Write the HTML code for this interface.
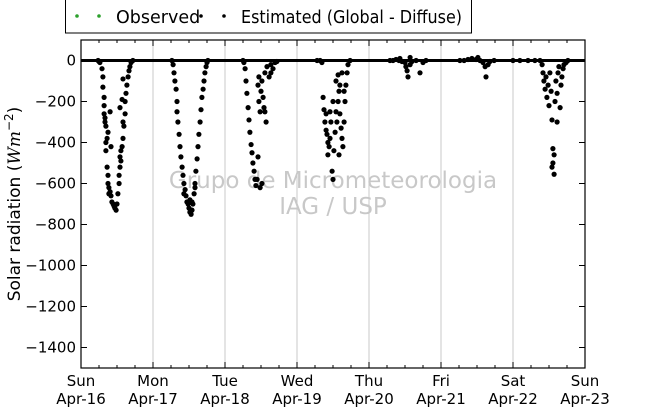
<!DOCTYPE html>
<html><head><meta charset="utf-8"><style>
html,body{margin:0;padding:0;background:#fff;}
svg{display:block;font-family:"DejaVu Sans","Liberation Sans",sans-serif;}
</style></head><body>
<svg id="chart" width="650" height="409" viewBox="0 0 650 409" xmlns="http://www.w3.org/2000/svg">
<g>
<rect x="65.5" y="-1" width="406" height="34" fill="#fff" stroke="#000" stroke-width="1"/>
<circle cx="77" cy="16" r="1.8" fill="#2ca02c"/><circle cx="99" cy="16" r="1.8" fill="#2ca02c"/>
<text x="116" y="23" font-size="17.5">Observed</text>
<circle cx="201" cy="16" r="1.8" fill="#000"/><circle cx="224" cy="16" r="1.8" fill="#000"/>
<text x="241" y="23" font-size="17.5" textLength="221" lengthAdjust="spacingAndGlyphs">Estimated (Global - Diffuse)</text>
</g>
<g id="grid"></g>
<text x="333" y="188" font-size="23" fill="#c8c8c8" text-anchor="middle">Grupo de Micrometeorologia</text>
<text x="333" y="214" font-size="23" fill="#c8c8c8" text-anchor="middle">IAG / USP</text>
<g id="marks"></g>
<g id="axes"></g>
<text transform="translate(20,204) rotate(-90)" font-size="17" text-anchor="middle">Solar radiation (<tspan font-family="DejaVu Serif" font-style="italic">Wm</tspan><tspan font-size="12" dy="-7">−2</tspan><tspan dy="7">)</tspan></text>
</svg>
<script>
const dayLabels = ["Sun","Mon","Tue","Wed","Thu","Fri","Sat","Sun"];
const dateLabels = ["Apr-16","Apr-17","Apr-18","Apr-19","Apr-20","Apr-21","Apr-22","Apr-23"];
const yTicks = [0,-200,-400,-600,-800,-1000,-1200,-1400];
const zeroLineHours = [0,168];
const zeroLineValues = [0,0];
const estHours = [5.7,6,6.3,7,7.3,7.3,7.7,7.7,7.7,8,8,8.3,8.3,8.3,8.7,8.7,9,9,9.3,9.3,9.7,10,10.3,10.7,11,11.3,11.7,12,12.3,12.7,12.7,13,13,13.3,13.3,13.7,14,14,14.3,14.7,14.7,15,15.3,15.7,16,16.3,16.7,17.3,14,13.7,13,9.7,9,10,
30.3,30.7,31,31.3,31.7,32,32,32.3,32.7,33,33.3,33.7,34,34.3,34.7,35,35.3,35.7,36,36.3,36.7,37,37.3,37.7,38,38.3,38.7,39,39.3,39.7,40,40.3,40.7,41,41.3,41.7,42,42.3,36.3,37,38,34.3,
54,54.3,54.7,55,55.3,55.7,56,56.3,56.7,57,57.3,57.7,58,58.3,58.7,59,59,59.3,59.3,59.7,60,60.3,60.7,61,61.3,61.3,61.7,62,62.7,63.3,64,64.7,65.3,59.7,60.3,63.3,
78.7,79.7,80.3,80.7,81,81.3,81.7,82,82.3,82.7,83,83.3,83.7,84,84.3,84.7,85,85.3,85.7,86,86.3,86.7,87,87.3,87.7,88,88.3,88.7,89,89.7,85,85.7,86.3,87,83,84,87.7,81.7,82.3,86,
103,104,105,106,107,108,108.3,108.7,109,109.7,110.3,111.7,113,114,115,106.3,109.7,
126.3,127.7,129,130.3,131.7,133,134,134.7,135,135.7,136.3,137.7,132.3,
144,146.3,149,151.3,153,153.7,154,154.3,154.7,155,155.3,155.7,156,156.3,156.7,157,157.3,157.3,157.7,158,158.3,158.7,159,159.3,159.7,160,160.3,160.7,161,161.7,162.3,158.7,157,157.7];
const estValues = [0,-5,-10,-40,-80,-130,-180,-220,-260,-300,-280,-320,-400,-440,-380,-520,-560,-600,-620,-650,-640,-660,-690,-700,-710,-720,-730,-700,-650,-600,-560,-520,-470,-440,-490,-420,-380,-300,-320,-260,-200,-160,-120,-80,-50,-30,-10,0,-90,-190,-230,-250,-350,-420,
0,-20,-60,-100,-140,-200,-250,-300,-360,-420,-470,-520,-560,-600,-630,-660,-690,-700,-720,-740,-750,-730,-700,-650,-600,-540,-480,-420,-360,-300,-240,-180,-140,-100,-60,-30,-10,0,-680,-690,-620,-650,
0,-10,-40,-100,-160,-230,-290,-350,-410,-450,-500,-540,-580,-610,-580,-470,-120,-80,-200,-250,-150,-100,-180,-230,-250,-60,-300,-30,-80,-20,-40,-10,-5,-620,-600,-60,
0,0,-10,-180,-240,-300,-340,-360,-400,-420,-380,-300,-540,-580,-440,-350,-250,-300,-200,-150,-260,-330,-380,-420,-300,-200,-120,-60,-20,0,-100,-70,-120,-60,-250,-200,-150,-260,-460,-460,
0,0,5,0,-5,-10,-30,-50,-80,-20,-5,0,-60,-10,0,10,15,
0,0,5,10,5,0,-10,-30,-80,-20,-5,0,15,
0,0,0,0,0,-20,-60,-100,-140,-80,-180,-120,-220,-60,-150,-290,-430,-500,-555,-200,-100,-160,-60,-30,-230,-120,-80,-40,-20,-10,0,-300,-520,-460];
const L=81,R=585,T=40,B=368;
const x = h => L + (h/168)*(R-L);
const y = v => T + (100 - v)/1600*(B-T);
const NS="http://www.w3.org/2000/svg";
function mk(tag, attrs, parent){const e=document.createElementNS(NS,tag);for(const k in attrs)e.setAttribute(k,attrs[k]);parent.appendChild(e);return e;}
const grid=document.getElementById('grid'), marks=document.getElementById('marks'), axes=document.getElementById('axes');
for(let d=1;d<7;d++){
  const g=mk('line',{x1:x(d*24),x2:x(d*24),y1:T,y2:B,stroke:'#c8c8c8','stroke-width':1},grid);
  
  
}
const zl=mk('polyline',{points:zeroLineHours.map((h,i)=>x(h)+','+y(zeroLineValues[i])).join(' '),fill:'none',stroke:'#000','stroke-width':3},marks);


for(let i=0;i<estHours.length;i++){
  const c=mk('circle',{cx:x(estHours[i]),cy:y(estValues[i]),r:2.6,fill:'#000'},marks);
  
  
}
const f=mk('rect',{x:L,y:T,width:R-L,height:B-T,fill:'none',stroke:'#000','stroke-width':1.2},axes);


for(let h=0;h<=168;h+=6){
  const len=(h%24===0)?6:3;
  mk('line',{x1:x(h),x2:x(h),y1:B,y2:B-len,stroke:'#000'},axes);
  mk('line',{x1:x(h),x2:x(h),y1:T,y2:T+len,stroke:'#000'},axes);
}
dayLabels.forEach((lab,i)=>{
  const t=mk('text',{x:x(i*24),y:386,'font-size':15,'text-anchor':'middle'},axes);
  t.textContent=lab;
  
  
  const t2=mk('text',{x:x(i*24),y:404,'font-size':15,'text-anchor':'middle'},axes);
  t2.textContent=dateLabels[i];
  
  
});
yTicks.forEach(v=>{
  mk('line',{x1:L,x2:L+6,y1:y(v),y2:y(v),stroke:'#000'},axes);
  mk('line',{x1:R,x2:R-6,y1:y(v),y2:y(v),stroke:'#000'},axes);
  const t=mk('text',{x:L-5,y:y(v)+5,'font-size':15,'text-anchor':'end'},axes);
  t.textContent=v===0?'0':'\u2212'+Math.abs(v);
  
  
});
</script>
</body></html>
